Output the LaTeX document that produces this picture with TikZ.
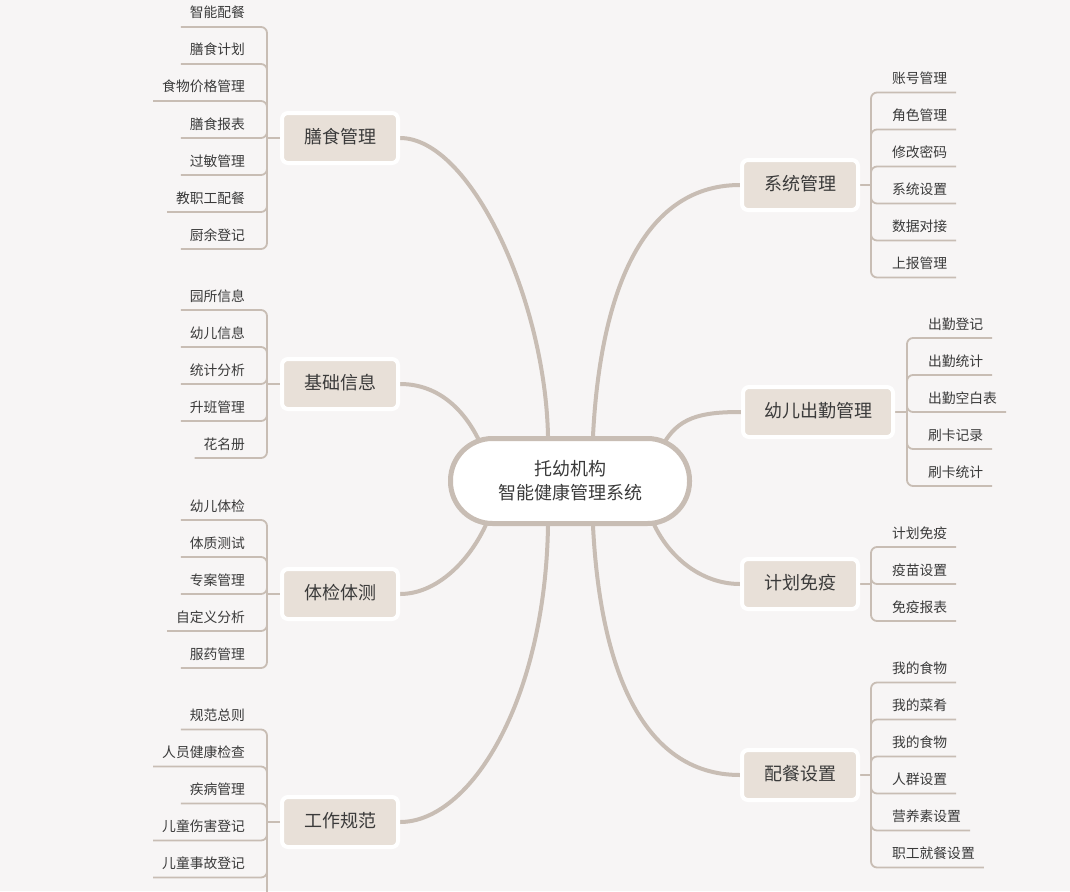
\documentclass[tikz,border=0pt]{standalone}
\usepackage{fontspec}
\setmainfont{Noto Sans CJK SC}
\usetikzlibrary{backgrounds}
\definecolor{bgC}{RGB}{247,245,245}
\definecolor{lineC}{RGB}{200,189,180}
\definecolor{boxC}{RGB}{232,224,216}
\definecolor{txtC}{RGB}{58,58,58}
\tikzset{
  root/.style={draw=lineC,line width=5pt,fill=white,rounded corners=42pt,
    minimum width=239pt,minimum height=85pt,align=center,text=txtC,
    font=\fontsize{18}{24}\selectfont},
  branch/.style={draw=white,line width=4pt,fill=boxC,rounded corners=6pt,
    minimum width=116pt,minimum height=50pt,inner xsep=21pt,text=txtC,
    text height=13pt,text depth=3pt,font=\fontsize{18}{22}\selectfont},
  leafL/.style={anchor=south east,inner xsep=9pt,inner ysep=9pt,outer sep=0pt,
    text height=10pt,text depth=0pt,text=txtC,font=\fontsize{13.8}{16}\selectfont},
  leafR/.style={leafL,anchor=south west},
  trunk/.style={draw=lineC,line width=4pt},
  stub/.style={draw=lineC,line width=2.6pt},
  twig/.style={draw=lineC,line width=1.8pt,rounded corners=6pt}
}
\begin{document}
\begin{tikzpicture}[x=1pt,y=-1pt,line cap=round,line join=round]
  \useasboundingbox (0,0) rectangle (1070,891);
  % centre and main branches
  \node[root] (root) at (570,481) {托幼机构\\智能健康管理系统};
  \node[branch] (diet) at (340,138) {膳食管理};
  \node[branch] (basic) at (340,384) {基础信息};
  \node[branch] (exam) at (340,594) {体检体测};
  \node[branch] (norm) at (340,822) {工作规范};
  \node[branch] (sys) at (800,185) {系统管理};
  \node[branch] (attend) at (818,412) {幼儿出勤管理};
  \node[branch] (immune) at (800,584) {计划免疫};
  \node[branch] (meal) at (800,775) {配餐设置};
  % spines
  \coordinate (dietS) at (267,138);
  \coordinate (basicS) at (267,384);
  \coordinate (examS) at (267,594);
  \coordinate (normS) at (267,822);
  \coordinate (normE) at (267,905);
  \coordinate (sysS) at (871,185);
  \coordinate (attendS) at (907,412);
  \coordinate (immuneS) at (871,584);
  \coordinate (mealS) at (871,775);
  % leaves
  \foreach \t [count=\i] in {智能配餐,膳食计划,食物价格管理,膳食报表,过敏管理,教职工配餐,厨余登记}
    \node[leafL] (diet\i) at (254,{138+(\i-4)*37}) {\t};
  \foreach \t [count=\i] in {园所信息,幼儿信息,统计分析,升班管理,花名册}
    \node[leafL] (basic\i) at (254,{384+(\i-3)*37}) {\t};
  \foreach \t [count=\i] in {幼儿体检,体质测试,专案管理,自定义分析,服药管理}
    \node[leafL] (exam\i) at (254,{594+(\i-3)*37}) {\t};
  \foreach \t [count=\i] in {规范总则,人员健康检查,疾病管理,儿童伤害登记,儿童事故登记}
    \node[leafL] (norm\i) at (254,{822+(\i-3.5)*37}) {\t};
  \foreach \t [count=\i] in {账号管理,角色管理,修改密码,系统设置,数据对接,上报管理}
    \node[leafR] (sys\i) at (883,{185+(\i-3.5)*37}) {\t};
  \foreach \t [count=\i] in {出勤登记,出勤统计,出勤空白表,刷卡记录,刷卡统计}
    \node[leafR] (attend\i) at (919,{412+(\i-3)*37}) {\t};
  \foreach \t [count=\i] in {计划免疫,疫苗设置,免疫报表}
    \node[leafR] (immune\i) at (883,{584+(\i-2)*37}) {\t};
  \foreach \t [count=\i] in {我的食物,我的菜肴,我的食物,人群设置,营养素设置,职工就餐设置}
    \node[leafR] (meal\i) at (883,{775+(\i-3.5)*37}) {\t};
  \begin{scope}[on background layer]
    \fill[bgC] (0,0) rectangle (1070,891);
    % trunks
    \draw[trunk] ([xshift=-22pt]root.north) .. controls +(-3,-138) and +(70,0) .. (diet.east);
    \draw[trunk] ([xshift=-88pt,yshift=34pt]root.center) .. controls +(-15,-35) and +(40,0) .. (basic.east);
    \draw[trunk] ([xshift=-80pt,yshift=-34pt]root.center) .. controls +(-15,40) and +(40,0) .. (exam.east);
    \draw[trunk] ([xshift=-22pt]root.south) .. controls +(-3,176) and +(70,0) .. (norm.east);
    \draw[trunk] ([xshift=23pt]root.north) .. controls +(7,-138) and +(-100,0) .. (sys.west);
    \draw[trunk] ([xshift=92pt,yshift=34pt]root.center) .. controls +(15,-30) and +(-40,0) .. (attend.west);
    \draw[trunk] ([xshift=80pt,yshift=-34pt]root.center) .. controls +(15,40) and +(-40,0) .. (immune.west);
    \draw[trunk] ([xshift=23pt]root.south) .. controls +(7,138) and +(-100,0) .. (meal.west);
    % stubs
    \draw[stub] (diet.west) -- (dietS);
    \draw[stub] (basic.west) -- (basicS);
    \draw[stub] (exam.west) -- (examS);
    \draw[stub] (norm.west) -- (normS);
    \draw[stub] (sys.east) -- (sysS);
    \draw[stub] (attend.east) -- (attendS);
    \draw[stub] (immune.east) -- (immuneS);
    \draw[stub] (meal.east) -- (mealS);
    % twigs
    \foreach \i in {1,...,7} \draw[twig] (dietS) |- (diet\i.south west);
    \foreach \i in {1,...,5} \draw[twig] (basicS) |- (basic\i.south west);
    \foreach \i in {1,...,5} \draw[twig] (examS) |- (exam\i.south west);
    \foreach \i in {1,...,5} \draw[twig] (normS) |- (norm\i.south west);
    \draw[twig] (normS) -- (normE);
    \foreach \i in {1,...,6} \draw[twig] (sysS) |- (sys\i.south east);
    \foreach \i in {1,...,5} \draw[twig] (attendS) |- (attend\i.south east);
    \foreach \i in {1,...,3} \draw[twig] (immuneS) |- (immune\i.south east);
    \foreach \i in {1,...,6} \draw[twig] (mealS) |- (meal\i.south east);
  \end{scope}
\end{tikzpicture}
\end{document}
